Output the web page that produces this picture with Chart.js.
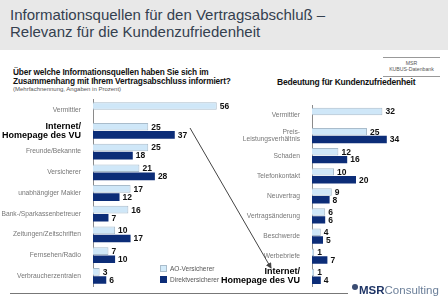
<!DOCTYPE html>
<html>
<head>
<meta charset="utf-8">
<script src="https://cdn.jsdelivr.net/npm/chart.js@4.4.1/dist/chart.umd.min.js"></script>
<style>
  html, body { margin: 0; padding: 0; background: #fff; }
  #page { position: relative; width: 448px; height: 299px; overflow: hidden; font-family: "Liberation Sans", Arial, sans-serif; }
  .abs { position: absolute; white-space: nowrap; }
  #head { left: 0; top: 0; width: 448px; height: 50px; background: #e8e8e8; }
  #title { left: 10px; top: 6px; font-size: 15px; line-height: 17px; color: #34404f; }
  #q { left: 13px; top: 68px; font-size: 8.3px; line-height: 9px; font-weight: bold; color: #111; letter-spacing: -0.15px; }
  #qsub { left: 13px; top: 86px; font-size: 6px; color: #555; }
  #rhead { left: 277px; top: 77px; font-size: 8.5px; font-weight: bold; color: #111; letter-spacing: -0.2px; }
  #src { left: 383px; top: 57px; width: 57px; border-top: 1px solid #999; border-bottom: 1px solid #999; text-align: center; font-size: 5.2px; line-height: 6px; color: #555; padding: 2px 0 4px; }
  .chart { position: absolute; }
  #legend { left: 160px; top: 263px; font-size: 6.5px; color: #555; line-height: 11px; }
  #legend span.box { display: inline-block; width: 7px; height: 7px; margin-right: 3px; vertical-align: -1px; }
  #bottomline { left: 10px; top: 293px; width: 338px; height: 0; border-top: 1px solid #777; }
  #logo { left: 352px; top: 284px; font-size: 11.5px; color: #6b7f99; }
  #logo b { color: #1f3566; }
  #logo i { display: inline-block; width: 6px; height: 6px; border-radius: 50%; background: #3a4c72; margin-right: 1px; vertical-align: 4px; font-style: normal; }
  svg { position: absolute; left: 0; top: 0; }
</style>
</head>
<body>
<div id="page">
  <div id="head" class="abs"></div>
  <div id="title" class="abs">Informationsquellen für den Vertragsabschluß –<br>Relevanz für die Kundenzufriedenheit</div>
  <div id="src" class="abs">MSR<br>KUBUS-Datenbank</div>
  <div id="q" class="abs">Über welche Informationsquellen haben Sie sich im<br>Zusammenhang mit Ihrem Vertragsabschluss informiert?</div>
  <div id="qsub" class="abs">(Mehrfachnennung, Angaben in Prozent)</div>
  <div id="rhead" class="abs">Bedeutung für Kundenzufriedenheit</div>
  <canvas id="left" class="chart" style="left:0;top:92px;width:240px;height:202px" width="240" height="202"></canvas>
  <canvas id="right" class="chart" style="left:220px;top:92px;width:228px;height:202px" width="228" height="202"></canvas>
  <div id="legend" class="abs">
    <div><span class="box" style="background:#d3ebfa;border:1px solid #a9bccb;width:5px;height:5px"></span>AO-Versicherer</div>
    <div><span class="box" style="background:#0c2d78"></span>Direktversicherer</div>
  </div>
  <svg width="448" height="299">
    <defs>
      <marker id="ah" markerWidth="6" markerHeight="6" refX="5" refY="3" orient="auto">
        <path d="M0,0 L6,3 L0,6 z" fill="#444"/>
      </marker>
    </defs>
    <line x1="190" y1="128" x2="271" y2="268" stroke="#444" stroke-width="1" marker-end="url(#ah)"/>
  </svg>
  <div id="bottomline" class="abs"></div>
  <div id="logo" class="abs"><i></i><b>MSR</b>Consulting</div>
</div>
<script>
// Informationsquellen (links)
var leftLabels = [
  "Vermittler",
  ["Internet/", "Homepage des VU"],
  "Freunde/Bekannte",
  "Versicherer",
  "unabhängiger Makler",
  "Bank-/Sparkassenbetreuer",
  "Zeitungen/Zeitschriften",
  "Fernsehen/Radio",
  "Verbraucherzentralen"
];
var leftAO = [56, 25, 25, 21, 17, 16, 10, 7, 3];
var leftDirekt = [null, 37, 18, 28, 12, 7, 17, 10, 6];

// Bedeutung für Kundenzufriedenheit (rechts)
var rightLabels = [
  "Vermittler",
  ["Preis-", "Leistungsverhältnis"],
  "Schaden",
  "Telefonkontakt",
  "Neuvertrag",
  "Vertragsänderung",
  "Beschwerde",
  "Werbebriefe",
  ["Internet/", "Homepage des VU"]
];
var rightAO = [32, 25, 12, 10, 9, 6, 4, 1, 1];
var rightDirekt = [null, 34, 16, 20, 8, 6, 5, 7, 4];

var seriesNames = ["AO-Versicherer", "Direktversicherer"];
var LIGHT = "#cfe7f8";
var DARK = "#0c2d78";

var valueLabels = {
  id: "valueLabels",
  afterDatasetsDraw: function (chart) {
    var ctx = chart.ctx;
    ctx.save();
    ctx.font = "bold 8.5px 'Liberation Sans', Arial, sans-serif";
    ctx.fillStyle = "#111";
    ctx.textBaseline = "middle";
    ctx.textAlign = "left";
    chart.data.datasets.forEach(function (ds, di) {
      var meta = chart.getDatasetMeta(di);
      meta.data.forEach(function (el, i) {
        var v = ds.data[i];
        if (v === null || v === undefined) return;
        ctx.fillText(String(v), el.x + 3, el.y + 0.5);
      });
    });
    ctx.restore();
  }
};

function makeChart(id, labels, ao, direkt, axisWidth, xMax, boldIndex) {
  return new Chart(document.getElementById(id), {
    type: "bar",
    data: {
      labels: labels,
      datasets: [
        { label: seriesNames[0], data: ao, backgroundColor: LIGHT, borderColor: "#a9bccb", borderWidth: 1, borderSkipped: "left" },
        { label: seriesNames[1], data: direkt, backgroundColor: DARK, borderWidth: 0 }
      ]
    },
    options: {
      indexAxis: "y",
      responsive: false,
      animation: false,
      events: [],
      layout: { padding: { top: 5, bottom: 5, left: 0, right: 0 } },
      datasets: { bar: { categoryPercentage: 0.78, barPercentage: 0.95 } },
      plugins: { legend: { display: false }, tooltip: { enabled: false } },
      scales: {
        x: { display: false, min: 0, max: xMax },
        y: {
          afterFit: function (scale) { scale.width = axisWidth; },
          grid: { display: false },
          border: { display: true, color: "#8a8a8a", width: 1 },
          ticks: {
            padding: 4,
            autoSkip: false,
            color: function (c) { return c.index === boldIndex ? "#000" : "#777"; },
            font: function (c) {
              return c.index === boldIndex
                ? { family: "'Liberation Sans', Arial, sans-serif", size: 9, weight: "bold", lineHeight: 1.05 }
                : { family: "'Liberation Sans', Arial, sans-serif", size: 6.7, lineHeight: 1.1 };
            }
          }
        }
      }
    },
    plugins: [valueLabels]
  });
}

makeChart("left", leftLabels, leftAO, leftDirekt, 93, 147 / 2.21, 1);
makeChart("right", rightLabels, rightAO, rightDirekt, 92, 136 / 2.2, 8);
</script>
</body>
</html>
